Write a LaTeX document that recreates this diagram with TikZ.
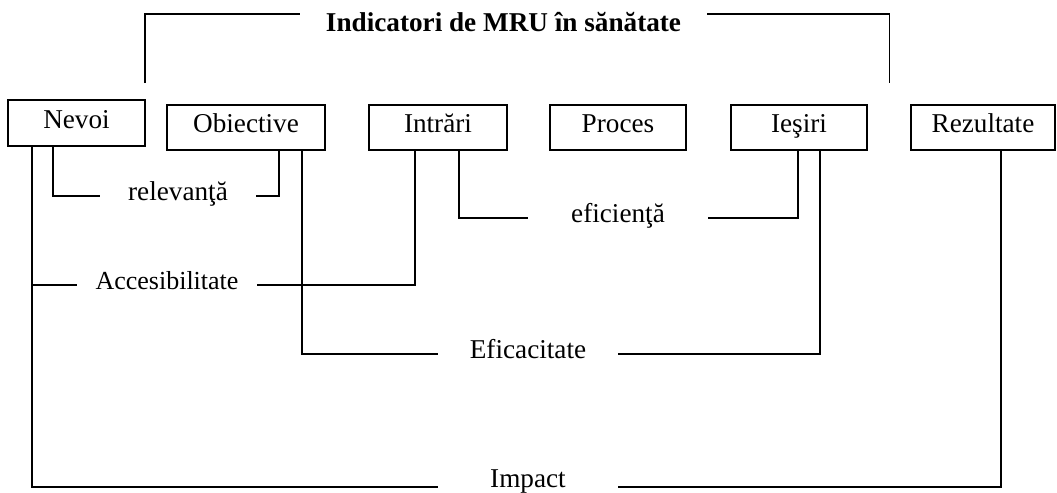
\documentclass[tikz,border=0pt]{standalone}
\usepackage{fontspec}
\setmainfont{Liberation Serif}
\usepackage{tikz}
\usetikzlibrary{positioning,calc}
\definecolor{ink}{HTML}{000000}
\tikzset{
  every node/.style={font=\fontsize{13.6}{16}\selectfont},
  % --- nodes
  box/.style   = {draw=ink, line width=0.9pt, inner sep=0pt, minimum height=22.5pt,
                  text height=9pt, text depth=4pt},
  lbl/.style   = {inner sep=0pt, text height=9pt, text depth=5pt},
  ttl/.style   = {lbl, font=\fontsize{13.6}{16}\selectfont\bfseries},
  % --- edges
  e/.style     = {draw=ink, line width=0.9pt},
}
\begin{document}
\begin{tikzpicture}[x=0.5pt,y=-0.5pt]
  \useasboundingbox (0,0) rectangle (1057,493);

  \node[box, minimum width=68.5pt, minimum height=23pt] (nevoi) at (76.5,123) {Nevoi};
  \node[box, minimum width=79pt] (obiective) at (246,127.5) {Obiective};
  \node[box, minimum width=69pt] (intrari)   at (438,127.5) {Intrări};
  \node[box, minimum width=68pt] (proces)    at (618,127.5) {Proces};
  \node[box, minimum width=68pt] (iesiri)    at (799,127.5) {Ieşiri};
  \node[box, minimum width=72pt] (rezultate) at (983,127.5) {Rezultate};

  \node[ttl, minimum width=203.5pt] (titlu) at (503.5,27) {Indicatori de MRU în sănătate};
  \coordinate (tstanga)  at (144.7,83);
  \coordinate (tdreapta) at (889.4,83);
  \draw[e] (tstanga) |- ([yshift=6.5pt]titlu.west);
  \draw[e] ([yshift=6.5pt]titlu.east) -| (tdreapta);

  \node[lbl, minimum width=78pt]   (relev)  at (178,196) {relevanţă};
  \node[lbl, minimum width=90pt, font=\fontsize{13}{15}\selectfont] (acces) at (167,285) {Accesibilitate};
  \node[lbl, minimum width=90pt]   (efici)  at (618,218) {eficienţă};
  \node[lbl, minimum width=89.5pt] (eficac) at (528,354) {Eficacitate};
  \node[lbl, minimum width=89.5pt, text depth=9pt] (impact) at (528,487) {Impact};

  \draw[e] ([xshift=23pt]nevoi.south west) |- (relev.west);
  \draw[e] ([xshift=56.5pt]obiective.south west) |- (relev.east);
  \draw[e] ([xshift=12.4pt]nevoi.south west) |- (acces.west);
  \draw[e] ([xshift=12.4pt]nevoi.south west) |- (impact.west);
  \draw[e] ([xshift=23.4pt]intrari.south west) |- (acces.east);
  \draw[e] ([xshift=45.4pt]intrari.south west) |- (efici.west);
  \draw[e] ([xshift=34pt]iesiri.south west) |- (efici.east);
  \draw[e] ([xshift=67.8pt]obiective.south west) |- (eficac.west);
  \draw[e] ([xshift=45pt]iesiri.south west) |- (eficac.east);
  \draw[e] ([xshift=45.25pt]rezultate.south west) |- (impact.east);
\end{tikzpicture}
\end{document}
